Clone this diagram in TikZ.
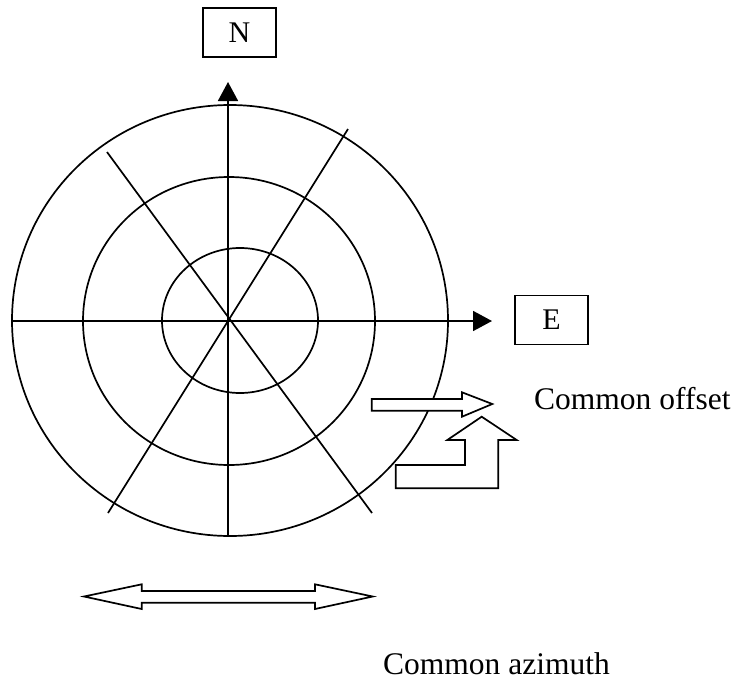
\documentclass[tikz,border=0pt]{standalone}
\usepackage{fontspec}
\setmainfont{Liberation Serif}
\usetikzlibrary{arrows.meta}
\begin{document}
\begin{tikzpicture}[x=1pt,y=-1pt,
  ring/.style={draw=black,line width=1.7pt},
  spoke/.style={draw=black,line width=1.7pt},
  axis/.style={draw=black,line width=1.7pt,-{Triangle[width=20pt,length=19pt]}},
  labelbox/.style={draw=black,line width=1.4pt,minimum width=73pt,minimum height=49pt,inner sep=0pt,font=\fontsize{30}{36}\selectfont},
  caption/.style={inner sep=0pt,anchor=base west,font=\fontsize{31.5}{38}\selectfont},
  hollow/.style={draw=black,line width=1.7pt,fill=white,line join=miter}]
\useasboundingbox (0,0) rectangle (741,683);
% rings
\draw[ring] (230,320.5) ellipse [x radius=218, y radius=215.5];
\draw[ring] (229,321) ellipse [x radius=146, y radius=144];
\draw[ring] (240,320.5) ellipse [x radius=78, y radius=72.5];
% spokes
\coordinate (d1a) at (107,152);
\coordinate (d1b) at (372,513);
\coordinate (d2a) at (348,129);
\coordinate (d2b) at (108,513);
\draw[spoke] (d1a) -- (d1b);
\draw[spoke] (d2a) -- (d2b);
% axes
\coordinate (ns) at (228,536);
\coordinate (nt) at (228,82);
\coordinate (ws) at (12.7,321);
\coordinate (et) at (492,321);
\draw[axis] (ns) -- (nt);
\draw[axis] (ws) -- (et);
% labels
\node[labelbox] (N) at (239.5,32.5) {N};
\node[labelbox] (E) at (551.5,320) {E};
% hollow right arrow
\draw[hollow] (371.7,399) -- (462,399) -- (462,392.3) -- (492.3,404) -- (462,416.7) -- (462,410.7) -- (371.7,410.7) -- cycle;
% bent up arrow
\draw[hollow] (395.7,488.3) -- (395.7,465) -- (465,465) -- (465,440) -- (447.3,440) -- (481.7,416.7) -- (516.7,440) -- (498.3,440) -- (498.3,488.3) -- cycle;
% double arrow
\draw[hollow] (84,596.5) -- (141.7,584.3) -- (141.7,591) -- (315,591) -- (315,584.3) -- (372.7,596.5) -- (315,609) -- (315,602.7) -- (141.7,602.7) -- (141.7,609) -- cycle;
% captions
\node[caption] (off) at (534,409) {Common offset};
\node[caption] (azi) at (383,674) {Common azimuth};
\end{tikzpicture}
\end{document}
